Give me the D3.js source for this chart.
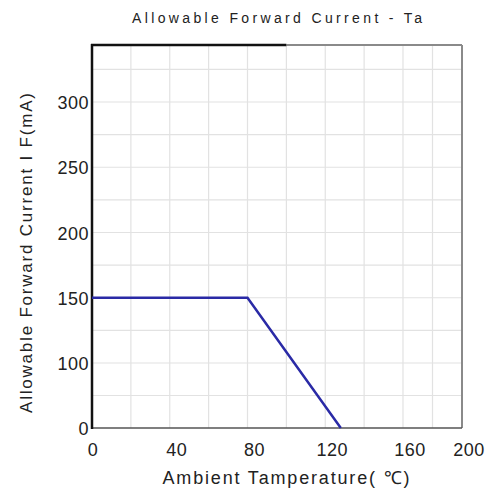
<!DOCTYPE html>
<html>
<head>
<meta charset="utf-8">
<script src="https://cdn.jsdelivr.net/npm/d3@7"></script>
<style>
  body { margin: 0; background: #fff; }
  svg text { font-family: "Liberation Sans", Arial, sans-serif; fill: #222; }
</style>
</head>
<body>
<svg id="chart" width="490" height="493"></svg>
<script>
// curve: derating of forward current vs ambient temperature
var tempC = [0, 80, 128],
    currentMA = [150, 150, 0];

var xTicks = [0, 40, 80, 120, 160, 200],
    yTicks = [0, 100, 150, 200, 250, 300],
    xGrid = [20, 40, 60, 80, 100, 120, 140, 160, 180],
    yGrid = [50, 100, 125, 150, 175, 200, 225, 250, 275, 300, 325];

var plotLeft = 92,
    plotRight = 462,
    plotTop = 45,
    plotBottom = 428;

var svg = d3.select('#chart');

// scanned datasheet axes are not quite even, so both scales are piecewise
var x = d3.scaleLinear()
    .domain([0, 160, 200])
    .range([plotLeft, 403, plotRight]);

var y = d3.scaleLinear()
    .domain([0, 100, 300])
    .range([plotBottom, 363, 102]);

// grid
svg.append('g').selectAll('line')
    .data(xGrid).enter()
    .append('line')
    .attr('x1', function(d) { return x(d); })
    .attr('x2', function(d) { return x(d); })
    .attr('y1', plotTop)
    .attr('y2', plotBottom)
    .attr('stroke', '#e2e2e2')
    .attr('stroke-width', 1.2);

svg.append('g').selectAll('line')
    .data(yGrid).enter()
    .append('line')
    .attr('x1', plotLeft)
    .attr('x2', plotRight)
    .attr('y1', function(d) { return y(d); })
    .attr('y2', function(d) { return y(d); })
    .attr('stroke', '#e2e2e2')
    .attr('stroke-width', 1.2);

// frame
svg.append('line')
    .attr('x1', x(100)).attr('x2', plotRight)
    .attr('y1', plotTop).attr('y2', plotTop)
    .attr('stroke', '#8a8a8a').attr('stroke-width', 2);
svg.append('line')
    .attr('x1', plotRight).attr('x2', plotRight)
    .attr('y1', plotTop).attr('y2', plotBottom)
    .attr('stroke', '#8a8a8a').attr('stroke-width', 2);
svg.append('line')
    .attr('x1', plotLeft).attr('x2', plotRight)
    .attr('y1', plotBottom).attr('y2', plotBottom)
    .attr('stroke', '#555').attr('stroke-width', 1.5);
svg.append('line')
    .attr('x1', plotLeft - 1).attr('x2', x(100))
    .attr('y1', plotTop).attr('y2', plotTop)
    .attr('stroke', '#111').attr('stroke-width', 2.5);
svg.append('line')
    .attr('x1', plotLeft).attr('x2', plotLeft)
    .attr('y1', plotTop - 1).attr('y2', plotBottom + 1)
    .attr('stroke', '#111').attr('stroke-width', 2.5);

// curve
var line = d3.line()
    .x(function(d) { return x(d[0]); })
    .y(function(d) { return y(d[1]); });

svg.append('path')
    .datum(d3.zip(tempC, currentMA))
    .attr('d', line)
    .attr('fill', 'none')
    .attr('stroke', '#2a2aa6')
    .attr('stroke-width', 2.5);

// tick labels
svg.append('g').selectAll('text')
    .data(xTicks).enter()
    .append('text')
    .text(function(d) { return d; })
    .attr('x', function(d) { return x(d) + (d === 0 ? 1 : 7); })
    .attr('y', 456)
    .attr('text-anchor', 'middle')
    .attr('font-size', 18)
    .attr('letter-spacing', 0.5);

svg.append('g').selectAll('text')
    .data(yTicks).enter()
    .append('text')
    .text(function(d) { return d; })
    .attr('x', 89)
    .attr('y', function(d) { return y(d) + 7; })
    .attr('text-anchor', 'end')
    .attr('font-size', 18)
    .attr('letter-spacing', 0.5);

// titles
svg.append('text')
    .text('Allowable Forward Current - Ta')
    .attr('x', 277)
    .attr('y', 23)
    .attr('text-anchor', 'middle')
    .attr('font-size', 14)
    .attr('textLength', 290)
    .attr('lengthAdjust', 'spacing');

svg.append('text')
    .text('Ambient Tamperature( \u2103)')
    .attr('x', 286)
    .attr('y', 484)
    .attr('text-anchor', 'middle')
    .attr('font-size', 18)
    .attr('textLength', 247)
    .attr('lengthAdjust', 'spacing');

svg.append('text')
    .text('Allowable Forward Current I F(mA)')
    .attr('transform', 'translate(32,253) rotate(-90)')
    .attr('text-anchor', 'middle')
    .attr('font-size', 17)
    .attr('textLength', 320)
    .attr('lengthAdjust', 'spacing');
</script>
</body>
</html>
